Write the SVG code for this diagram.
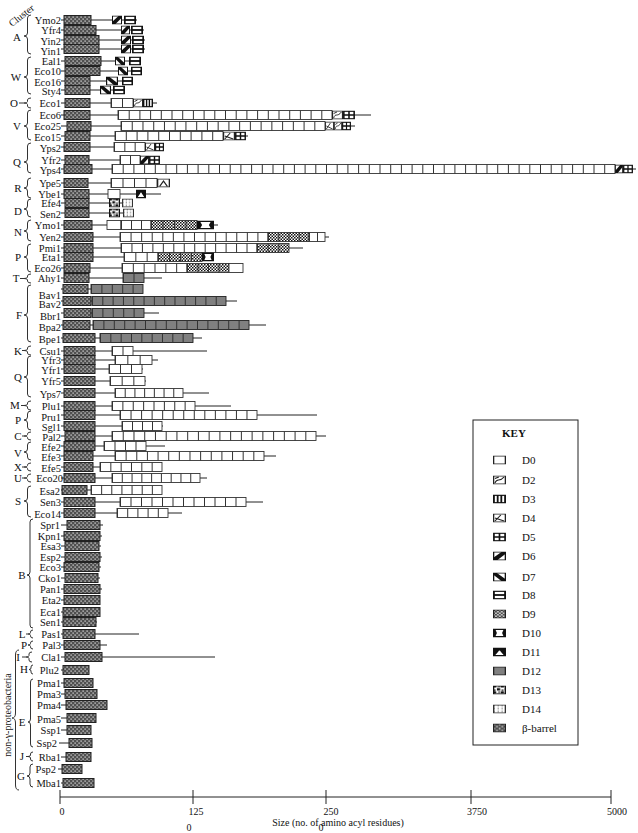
<svg xmlns="http://www.w3.org/2000/svg" width="638" height="833" viewBox="0 0 638 833">
<style>
text{font-family:"Liberation Serif","Times New Roman",serif;fill:#111}
.lb{font-size:10.5px;text-anchor:end}
.cl{font-size:11px;text-anchor:middle}
.ln{stroke:#222;stroke-width:1;fill:none}
.br{stroke:#333;stroke-width:1;fill:none}
.bb{fill:url(#pb);stroke:#222;stroke-width:1}
.d0{fill:#fff;stroke:#333;stroke-width:0.9}
.d9{fill:url(#p9);stroke:#333;stroke-width:0.9}
.d12{fill:#808080;stroke:#222;stroke-width:0.9}
.dv{stroke:#333;stroke-width:9;stroke-dasharray:1 9.5}
.ax{stroke:#222;stroke-width:1}
.tk{font-size:10px;text-anchor:middle}
.kl{font-size:11px}
</style>
<defs>
<pattern id="pb" width="4" height="4" patternUnits="userSpaceOnUse"><rect width="4" height="4" fill="#505050"/><rect x="0.5" y="0.5" width="1.2" height="1.2" fill="#eee"/><rect x="2.5" y="2.5" width="1.2" height="1.2" fill="#eee"/></pattern>
<pattern id="p9" width="3" height="3" patternUnits="userSpaceOnUse"><rect width="3" height="3" fill="#fff"/><rect width="1.5" height="1.5" fill="#111"/><rect x="1.5" y="1.5" width="1.5" height="1.5" fill="#111"/></pattern>
<pattern id="p13" width="6" height="6" patternUnits="userSpaceOnUse"><rect width="6" height="6" fill="#fff"/><rect width="2.5" height="2" fill="#111"/><rect x="3" y="2.5" width="2.5" height="2.5" fill="#111"/><rect x="0.5" y="4" width="1.5" height="1.5" fill="#111"/><rect x="4" y="0" width="1.5" height="1.2" fill="#111"/></pattern>
<pattern id="p14" width="3" height="3" patternUnits="userSpaceOnUse"><rect width="3" height="3" fill="#fff"/><rect x="0.5" y="0.5" width="1" height="1" fill="#444"/></pattern>
<symbol id="s0" viewBox="0 0 10 9" preserveAspectRatio="none"><rect x=".5" y=".5" width="9" height="8" fill="#fff" stroke="#222"/></symbol>
<symbol id="s2" viewBox="0 0 10 9" preserveAspectRatio="none"><rect x=".5" y=".5" width="9" height="8" fill="#fff" stroke="#222"/><path d="M1.5,7.5C3,2 5,7 8.5,1.5M1.5,3L4.5,1.5" fill="none" stroke="#222" stroke-width=".9"/></symbol>
<symbol id="s3" viewBox="0 0 10 9" preserveAspectRatio="none"><rect x=".7" y=".7" width="8.6" height="7.6" fill="#fff" stroke="#111" stroke-width="1.4"/><path d="M3.6,.5V8.5M6.4,.5V8.5" stroke="#111" stroke-width="1.4"/></symbol>
<symbol id="s4" viewBox="0 0 10 9" preserveAspectRatio="none"><rect x=".5" y=".5" width="9" height="8" fill="#fff" stroke="#222"/><path d="M1.5,7.5L6,1.5M1.5,4.5L8.5,7.5" fill="none" stroke="#222" stroke-width=".9"/></symbol>
<symbol id="s5" viewBox="0 0 10 9" preserveAspectRatio="none"><rect x=".7" y=".7" width="8.6" height="7.6" fill="#fff" stroke="#111" stroke-width="1.3"/><path d="M5,.5V8.5M.5,4.5H9.5" stroke="#111" stroke-width="1.3"/></symbol>
<symbol id="s6" viewBox="0 0 10 9" preserveAspectRatio="none"><rect x=".5" y=".5" width="9" height="8" fill="#fff"/><polygon points="0.5,8.5 0.5,6 6.5,0.5 9.5,0.5 9.5,2.5 3.5,8.5" fill="#111"/><rect x=".5" y=".5" width="9" height="8" fill="none" stroke="#111"/></symbol>
<symbol id="s7" viewBox="0 0 10 9" preserveAspectRatio="none"><rect x=".5" y=".5" width="9" height="8" fill="#fff"/><polygon points="0.5,0.5 3,0.5 9.5,6.5 9.5,8.5 6.5,8.5 0.5,2.5" fill="#111"/><rect x=".5" y=".5" width="9" height="8" fill="none" stroke="#111"/></symbol>
<symbol id="s8" viewBox="0 0 10 9" preserveAspectRatio="none"><rect x=".7" y=".7" width="8.6" height="7.6" fill="#fff" stroke="#111" stroke-width="1.4"/><rect x="0" y="3.6" width="10" height="1.8" fill="#111"/></symbol>
<symbol id="s9" viewBox="0 0 10 9" preserveAspectRatio="none"><rect x=".5" y=".5" width="9" height="8" fill="url(#p9)" stroke="#222"/></symbol>
<symbol id="s10" viewBox="0 0 10 9" preserveAspectRatio="none"><rect width="10" height="9" fill="#111"/><path d="M2,1.5H8L7,4.5L8,7.5H2L3,4.5Z" fill="#fff"/></symbol>
<symbol id="s11" viewBox="0 0 10 9" preserveAspectRatio="none"><rect width="10" height="9" fill="#111"/><path d="M1.8,7.5L4,4.2Q5,2 6,4.2L8.2,7.5Z" fill="#fff"/></symbol>
<symbol id="s12" viewBox="0 0 10 9" preserveAspectRatio="none"><rect x=".5" y=".5" width="9" height="8" fill="#808080" stroke="#222"/></symbol>
<symbol id="s13" viewBox="0 0 10 9" preserveAspectRatio="none"><rect x=".5" y=".5" width="9" height="8" fill="url(#p13)" stroke="#111"/></symbol>
<symbol id="s14" viewBox="0 0 10 9" preserveAspectRatio="none"><rect x=".5" y=".5" width="9" height="8" fill="url(#p14)" stroke="#333"/></symbol>
<symbol id="sT" viewBox="0 0 10 9" preserveAspectRatio="none"><rect x=".5" y=".5" width="9" height="8" fill="#fff" stroke="#222"/><path d="M2,8L5,2.5L8,8" fill="none" stroke="#222"/></symbol>
<symbol id="sB" viewBox="0 0 10 9" preserveAspectRatio="none"><rect x=".5" y=".5" width="9" height="8" fill="url(#pb)" stroke="#222"/></symbol>
</defs>
<rect width="638" height="833" fill="#fff"/>

<g id="connectors">
<line class="ln" x1="61" y1="20" x2="137" y2="20"/>
<line class="ln" x1="61" y1="30" x2="144" y2="30"/>
<line class="ln" x1="61" y1="40" x2="145" y2="40"/>
<line class="ln" x1="61" y1="49" x2="145" y2="49"/>
<line class="ln" x1="61" y1="61" x2="141" y2="61"/>
<line class="ln" x1="61" y1="71" x2="142" y2="71"/>
<line class="ln" x1="61" y1="81" x2="133" y2="81"/>
<line class="ln" x1="61" y1="90" x2="125" y2="90"/>
<line class="ln" x1="61" y1="103" x2="157" y2="103"/>
<line class="ln" x1="61" y1="115" x2="371" y2="115"/>
<line class="ln" x1="61" y1="126" x2="355" y2="126"/>
<line class="ln" x1="61" y1="136" x2="248" y2="136"/>
<line class="ln" x1="61" y1="147" x2="164" y2="147"/>
<line class="ln" x1="61" y1="160" x2="160" y2="160"/>
<line class="ln" x1="61" y1="169" x2="636" y2="169"/>
<line class="ln" x1="61" y1="183" x2="170" y2="183"/>
<line class="ln" x1="61" y1="194" x2="161" y2="194"/>
<line class="ln" x1="61" y1="203" x2="122" y2="203"/>
<line class="ln" x1="61" y1="213" x2="123" y2="213"/>
<line class="ln" x1="61" y1="225" x2="218" y2="225"/>
<line class="ln" x1="61" y1="237" x2="329" y2="237"/>
<line class="ln" x1="61" y1="248" x2="303" y2="248"/>
<line class="ln" x1="61" y1="257" x2="214" y2="257"/>
<line class="ln" x1="61" y1="268" x2="243" y2="268"/>
<line class="ln" x1="61" y1="278" x2="162" y2="278"/>
<line class="ln" x1="61" y1="289" x2="143" y2="289"/>
<line class="ln" x1="61" y1="301" x2="237" y2="301"/>
<line class="ln" x1="61" y1="313" x2="159" y2="313"/>
<line class="ln" x1="61" y1="325" x2="266" y2="325"/>
<line class="ln" x1="61" y1="338" x2="202" y2="338"/>
<line class="ln" x1="61" y1="351" x2="207" y2="351"/>
<line class="ln" x1="61" y1="360" x2="158" y2="360"/>
<line class="ln" x1="61" y1="369" x2="143" y2="369"/>
<line class="ln" x1="61" y1="381" x2="146" y2="381"/>
<line class="ln" x1="61" y1="393" x2="209" y2="393"/>
<line class="ln" x1="61" y1="406" x2="231" y2="406"/>
<line class="ln" x1="61" y1="415" x2="317" y2="415"/>
<line class="ln" x1="61" y1="426" x2="163" y2="426"/>
<line class="ln" x1="61" y1="436" x2="326" y2="436"/>
<line class="ln" x1="61" y1="446" x2="165" y2="446"/>
<line class="ln" x1="61" y1="456" x2="276" y2="456"/>
<line class="ln" x1="61" y1="467" x2="162" y2="467"/>
<line class="ln" x1="61" y1="478" x2="207" y2="478"/>
<line class="ln" x1="61" y1="490" x2="162" y2="490"/>
<line class="ln" x1="61" y1="502" x2="263" y2="502"/>
<line class="ln" x1="61" y1="513" x2="182" y2="513"/>
<line class="ln" x1="61" y1="525" x2="103" y2="525"/>
<line class="ln" x1="61" y1="536" x2="102" y2="536"/>
<line class="ln" x1="61" y1="546" x2="101" y2="546"/>
<line class="ln" x1="61" y1="557" x2="102" y2="557"/>
<line class="ln" x1="61" y1="567" x2="101" y2="567"/>
<line class="ln" x1="61" y1="578" x2="100" y2="578"/>
<line class="ln" x1="61" y1="589" x2="102" y2="589"/>
<line class="ln" x1="61" y1="600" x2="100" y2="600"/>
<line class="ln" x1="61" y1="612" x2="100" y2="612"/>
<line class="ln" x1="61" y1="622" x2="97" y2="622"/>
<line class="ln" x1="61" y1="634" x2="139" y2="634"/>
<line class="ln" x1="61" y1="645" x2="107" y2="645"/>
<line class="ln" x1="61" y1="657" x2="215" y2="657"/>
<line class="ln" x1="61" y1="670" x2="89" y2="670"/>
<line class="ln" x1="61" y1="683" x2="93" y2="683"/>
<line class="ln" x1="61" y1="694" x2="97" y2="694"/>
<line class="ln" x1="61" y1="705" x2="107" y2="705"/>
<line class="ln" x1="61" y1="718" x2="96" y2="718"/>
<line class="ln" x1="61" y1="730" x2="91" y2="730"/>
<line class="ln" x1="59" y1="743" x2="92" y2="743"/>
<line class="ln" x1="61" y1="757" x2="91" y2="757"/>
<line class="ln" x1="58" y1="769" x2="82" y2="769"/>
<line class="ln" x1="61" y1="783" x2="94" y2="783"/>
</g>

<g id="braces">
<path class="br" d="M31,15Q27.5,15 27.5,18V33Q27.5,36 24,36Q27.5,36 27.5,39V51Q27.5,54 31,54"/>
<path class="br" d="M31,57Q27.5,57 27.5,60V74Q27.5,77 24,77Q27.5,77 27.5,80V91Q27.5,94 31,94"/>
<path class="br" d="M31,98Q27.5,98 27.5,100V101.5Q27.5,103 24,103Q27.5,103 27.5,104.5V106Q27.5,108 31,108M19,103H24"/>
<path class="br" d="M31,110Q27.5,110 27.5,113V123Q27.5,126 24,126Q27.5,126 27.5,129V137Q27.5,140 31,140"/>
<path class="br" d="M31,143Q27.5,143 27.5,146V159Q27.5,162 24,162Q27.5,162 27.5,165V170Q27.5,173 31,173"/>
<path class="br" d="M31,178Q27.5,178 27.5,181V185Q27.5,188 24,188Q27.5,188 27.5,191V195Q27.5,198 31,198"/>
<path class="br" d="M31,199Q27.5,199 27.5,202V206Q27.5,209 24,209Q27.5,209 27.5,212V214Q27.5,217 31,217"/>
<path class="br" d="M31,220Q27.5,220 27.5,223V228Q27.5,231 24,231Q27.5,231 27.5,234V238Q27.5,241 31,241"/>
<path class="br" d="M31,244Q27.5,244 27.5,247V254Q27.5,257 24,257Q27.5,257 27.5,260V269Q27.5,272 31,272"/>
<path class="br" d="M31,274Q27.5,274 27.5,276V277Q27.5,278.5 24,278.5Q27.5,278.5 27.5,280V281Q27.5,283 31,283M20,278.5H24"/>
<path class="br" d="M31,285Q27.5,285 27.5,288V312Q27.5,315 24,315Q27.5,315 27.5,318V339Q27.5,342 31,342"/>
<path class="br" d="M31,346Q27.5,346 27.5,348V349Q27.5,350.5 24,350.5Q27.5,350.5 27.5,352V353Q27.5,355 31,355M22,350.5H24"/>
<path class="br" d="M31,356Q27.5,356 27.5,359V374Q27.5,377 24,377Q27.5,377 27.5,380V394Q27.5,397 31,397"/>
<path class="br" d="M31,401Q27.5,401 27.5,403V404Q27.5,405.5 24,405.5Q27.5,405.5 27.5,407V408Q27.5,410 31,410M21,405.5H24"/>
<path class="br" d="M31,411Q27.5,411 27.5,414V417Q27.5,420 24,420Q27.5,420 27.5,423V427Q27.5,430 31,430"/>
<path class="br" d="M31,432Q27.5,432 27.5,434V434.5Q27.5,436 24,436Q27.5,436 27.5,437.5V438Q27.5,440 31,440M22,436H24"/>
<path class="br" d="M31,442Q27.5,442 27.5,445V449Q27.5,452 24,452Q27.5,452 27.5,455V457Q27.5,460 31,460"/>
<path class="br" d="M31,463Q27.5,463 27.5,465V465.5Q27.5,467 24,467Q27.5,467 27.5,468.5V469Q27.5,471 31,471M22,467H24"/>
<path class="br" d="M31,474Q27.5,474 27.5,476V476.5Q27.5,478 24,478Q27.5,478 27.5,479.5V480Q27.5,482 31,482M22,478H24"/>
<path class="br" d="M31,486Q27.5,486 27.5,489V498Q27.5,501 24,501Q27.5,501 27.5,504V514Q27.5,517 31,517"/>
<path class="br" d="M33,519Q30,519 30,522V572Q30,575 27,575Q30,575 30,578V625Q30,628 33,628"/>
<path class="br" d="M33,630Q30.5,630 30.5,632V632.5Q30.5,634 28,634Q30.5,634 30.5,635.5V636Q30.5,638 33,638M26,634H28"/>
<path class="br" d="M33,641Q30.5,641 30.5,643V643.5Q30.5,645 28,645Q30.5,645 30.5,646.5V647Q30.5,649 33,649"/>
<path class="br" d="M32,652Q29,652 29,654V655.5Q29,657 26,657Q29,657 29,658.5V660Q29,662 32,662M22,657H26"/>
<path class="br" d="M33,665Q31,665 31,667V668Q31,669.5 29,669.5Q31,669.5 31,671V672Q31,674 33,674"/>
<path class="br" d="M33,679Q30.5,679 30.5,682V719Q30.5,722 28,722Q30.5,722 30.5,725V744Q30.5,747 33,747"/>
<path class="br" d="M33,752Q30.5,752 30.5,754V755Q30.5,756.5 28,756.5Q30.5,756.5 30.5,758V759Q30.5,761 33,761M26,756.5H28"/>
<path class="br" d="M33,764Q30,764 30,767V773Q30,776 27,776Q30,776 30,779V784Q30,787 33,787"/>
<path class="br" d="M19,650Q15.5,650 15.5,655V713Q15.5,718 12,718Q15.5,718 15.5,723V785Q15.5,790 19,790"/>
</g>

<g id="clusters">
<text transform="translate(12,27) rotate(-38)" font-size="10">Cluster</text>
<text class="cl" x="17" y="41">A</text>
<text class="cl" x="16" y="81">W</text>
<text class="cl" x="14" y="107">O</text>
<text class="cl" x="17" y="130">V</text>
<text class="cl" x="17" y="166">Q</text>
<text class="cl" x="18" y="192">R</text>
<text class="cl" x="18" y="215">D</text>
<text class="cl" x="18" y="236">N</text>
<text class="cl" x="18" y="261">P</text>
<text class="cl" x="16" y="282">T</text>
<text class="cl" x="19" y="319">F</text>
<text class="cl" x="18" y="355">K</text>
<text class="cl" x="18" y="381">Q</text>
<text class="cl" x="15" y="409">M</text>
<text class="cl" x="18" y="424">P</text>
<text class="cl" x="18" y="440">C</text>
<text class="cl" x="18" y="457">V</text>
<text class="cl" x="18" y="471">X</text>
<text class="cl" x="18" y="482">U</text>
<text class="cl" x="18" y="505">S</text>
<text class="cl" x="22" y="579">B</text>
<text class="cl" x="22" y="638">L</text>
<text class="cl" x="24" y="649">P</text>
<text class="cl" x="18" y="661">I</text>
<text class="cl" x="24" y="673">H</text>
<text class="cl" x="22" y="726">E</text>
<text class="cl" x="22" y="760">J</text>
<text class="cl" x="21" y="780">G</text>
<text transform="translate(11,715) rotate(-90)" font-size="10" text-anchor="middle">non-γ-proteobacteria</text>
</g>

<g id="Ymo2"><text class="lb" x="61" y="24">Ymo2</text><rect class="bb" x="64" y="15.5" width="27" height="9"/><use href="#s6" x="112" y="15.5" width="10" height="9"/><use href="#s8" x="124" y="15.5" width="12" height="9"/></g>
<g id="Yfr4"><text class="lb" x="61" y="34">Yfr4</text><rect class="bb" x="64" y="25.5" width="32" height="9"/><use href="#s6" x="121" y="25.5" width="9" height="9"/><use href="#s8" x="131" y="25.5" width="12" height="9"/></g>
<g id="Yin2"><text class="lb" x="61" y="45">Yin2</text><rect class="bb" x="64" y="35.5" width="35" height="9"/><use href="#s6" x="121" y="35.5" width="10" height="9"/><use href="#s8" x="132" y="35.5" width="12" height="9"/></g>
<g id="Yin1"><text class="lb" x="61" y="55">Yin1</text><rect class="bb" x="64" y="44.5" width="35" height="9"/><use href="#s6" x="121" y="44.5" width="10" height="9"/><use href="#s8" x="132" y="44.5" width="12" height="9"/></g>
<g id="Eal1"><text class="lb" x="61" y="65">Eal1</text><rect class="bb" x="65" y="56.5" width="36" height="9"/><use href="#s7" x="115" y="56.5" width="10" height="9"/><use href="#s8" x="129" y="56.5" width="12" height="9"/></g>
<g id="Eco10"><text class="lb" x="61" y="75">Eco10</text><rect class="bb" x="65" y="66.5" width="35" height="9"/><use href="#s7" x="118" y="66.5" width="10" height="9"/><use href="#s8" x="131" y="66.5" width="11" height="9"/></g>
<g id="Eco16"><text class="lb" x="61" y="86">Eco16</text><rect class="bb" x="65" y="76.5" width="25" height="9"/><use href="#s7" x="106" y="76.5" width="12" height="9"/><use href="#s8" x="122" y="76.5" width="11" height="9"/></g>
<g id="Sty4"><text class="lb" x="61" y="95">Sty4</text><rect class="bb" x="65" y="85.5" width="25" height="9"/><use href="#s7" x="100" y="85.5" width="11" height="9"/><use href="#s8" x="113" y="85.5" width="12" height="9"/></g>
<g id="Eco1"><text class="lb" x="61" y="107">Eco1</text><rect class="bb" x="65" y="98.5" width="25" height="9"/><rect class="d0" x="111" y="98.5" width="22" height="9"/><line class="dv" x1="111" y1="103" x2="133" y2="103" style="stroke-dasharray:1 10"/><use href="#s2" x="133" y="98.5" width="10" height="9"/><use href="#s3" x="143" y="98.5" width="10" height="9"/></g>
<g id="Eco6"><text class="lb" x="61" y="119">Eco6</text><rect class="bb" x="64" y="110.5" width="26" height="9"/><rect class="d0" x="118" y="110.5" width="214" height="9"/><line class="dv" x1="118" y1="115" x2="332" y2="115" style="stroke-dasharray:1 9.7"/><use href="#s2" x="332" y="110.5" width="11" height="9"/><use href="#s5" x="343" y="110.5" width="12" height="9"/></g>
<g id="Eco25"><text class="lb" x="61" y="130">Eco25</text><rect class="bb" x="67" y="121.5" width="24" height="9"/><rect class="d0" x="121" y="121.5" width="204" height="9"/><line class="dv" x1="121" y1="126" x2="325" y2="126" style="stroke-dasharray:1 9.74"/><use href="#s4" x="325" y="121.5" width="9" height="9"/><use href="#s2" x="334" y="121.5" width="8" height="9"/><use href="#s5" x="342" y="121.5" width="9" height="9"/></g>
<g id="Eco15"><text class="lb" x="61" y="141">Eco15</text><rect class="bb" x="65" y="131.5" width="25" height="9"/><rect class="d0" x="115" y="131.5" width="108" height="9"/><line class="dv" x1="115" y1="136" x2="223" y2="136" style="stroke-dasharray:1 9.8"/><use href="#s4" x="223" y="131.5" width="12" height="9"/><use href="#s5" x="235" y="131.5" width="11" height="9"/></g>
<g id="Yps2"><text class="lb" x="61" y="152">Yps2</text><rect class="bb" x="64" y="142.5" width="26" height="9"/><rect class="d0" x="114" y="142.5" width="31" height="9"/><line class="dv" x1="114" y1="147" x2="145" y2="147" style="stroke-dasharray:1 9.33"/><use href="#s4" x="145" y="142.5" width="10" height="9"/><use href="#s5" x="155" y="142.5" width="9" height="9"/></g>
<g id="Yfr2"><text class="lb" x="61" y="164">Yfr2</text><rect class="bb" x="65" y="155.5" width="24" height="9"/><rect class="d0" x="120" y="155.5" width="20" height="9"/><line class="dv" x1="120" y1="160" x2="140" y2="160" style="stroke-dasharray:1 9"/><use href="#s6" x="140" y="155.5" width="9" height="9"/><use href="#s5" x="149" y="155.5" width="11" height="9"/></g>
<g id="Yps4"><text class="lb" x="61" y="174">Yps4</text><rect class="bb" x="64" y="164.5" width="28" height="9"/><rect class="d0" x="112" y="164.5" width="503" height="9"/><line class="dv" x1="112" y1="169" x2="615" y2="169" style="stroke-dasharray:1 9.7"/><use href="#s6" x="615" y="164.5" width="8" height="9"/><use href="#s5" x="623" y="164.5" width="10" height="9"/></g>
<g id="Ype5"><text class="lb" x="61" y="187">Ype5</text><rect class="bb" x="64" y="178.5" width="24" height="9"/><rect class="d0" x="111" y="178.5" width="46" height="9"/><line class="dv" x1="111" y1="183" x2="157" y2="183" style="stroke-dasharray:1 10.5"/><use href="#sT" x="157" y="178.5" width="13" height="9"/></g>
<g id="Ybe1"><text class="lb" x="61" y="198">Ybe1</text><rect class="bb" x="64" y="189.5" width="25" height="9"/><rect class="d0" x="108" y="189.5" width="12" height="9"/><use href="#s11" x="136" y="189.5" width="10" height="9"/></g>
<g id="Efe4"><text class="lb" x="61" y="207">Efe4</text><rect class="bb" x="65" y="198.5" width="24" height="9"/><use href="#s13" x="109" y="198.5" width="11" height="9"/><use href="#s14" x="122" y="198.5" width="11" height="9"/></g>
<g id="Sen2"><text class="lb" x="61" y="218">Sen2</text><rect class="bb" x="65" y="208.5" width="24" height="9"/><use href="#s13" x="109" y="208.5" width="11" height="9"/><use href="#s14" x="123" y="208.5" width="11" height="9"/></g>
<g id="Ymo1"><text class="lb" x="61" y="229">Ymo1</text><rect class="bb" x="64" y="220.5" width="28" height="9"/><rect class="d0" x="107" y="220.5" width="14" height="9"/><rect class="d0" x="121" y="220.5" width="30" height="9"/><line class="dv" x1="121" y1="225" x2="151" y2="225" style="stroke-dasharray:1 9"/><rect class="d9" x="151" y="220.5" width="46" height="9"/><line class="dv" x1="151" y1="225" x2="197" y2="225" style="stroke-dasharray:1 10.5"/><use href="#s10" x="197" y="220.5" width="17" height="9"/></g>
<g id="Yen2"><text class="lb" x="61" y="241">Yen2</text><rect class="bb" x="64" y="232.5" width="29" height="9"/><rect class="d0" x="120" y="232.5" width="148" height="9"/><line class="dv" x1="120" y1="237" x2="268" y2="237" style="stroke-dasharray:1 9.57"/><rect class="d9" x="268" y="232.5" width="41" height="9"/><line class="dv" x1="268" y1="237" x2="309" y2="237" style="stroke-dasharray:1 9.25"/><rect class="d0" x="309" y="232.5" width="16" height="9"/><line class="dv" x1="309" y1="237" x2="325" y2="237" style="stroke-dasharray:1 7"/></g>
<g id="Pmi1"><text class="lb" x="61" y="252">Pmi1</text><rect class="bb" x="64" y="243.5" width="29" height="9"/><rect class="d0" x="121" y="243.5" width="136" height="9"/><line class="dv" x1="121" y1="248" x2="257" y2="248" style="stroke-dasharray:1 9.46"/><rect class="d9" x="257" y="243.5" width="32" height="9"/><line class="dv" x1="257" y1="248" x2="289" y2="248" style="stroke-dasharray:1 9.67"/></g>
<g id="Eta1"><text class="lb" x="61" y="261">Eta1</text><rect class="bb" x="64" y="252.5" width="29" height="9"/><rect class="d0" x="124" y="252.5" width="34" height="9"/><line class="dv" x1="124" y1="257" x2="158" y2="257" style="stroke-dasharray:1 10.33"/><rect class="d9" x="158" y="252.5" width="44" height="9"/><line class="dv" x1="158" y1="257" x2="202" y2="257" style="stroke-dasharray:1 10"/><use href="#s10" x="202" y="252.5" width="12" height="9"/></g>
<g id="Eco26"><text class="lb" x="61" y="272">Eco26</text><rect class="bb" x="64" y="263.5" width="26" height="9"/><rect class="d0" x="122" y="263.5" width="65" height="9"/><line class="dv" x1="122" y1="268" x2="187" y2="268" style="stroke-dasharray:1 9.83"/><rect class="d9" x="187" y="263.5" width="42" height="9"/><line class="dv" x1="187" y1="268" x2="229" y2="268" style="stroke-dasharray:1 9.5"/><rect class="d0" x="229" y="263.5" width="14" height="9"/></g>
<g id="Ahy1"><text class="lb" x="61" y="282">Ahy1</text><rect class="bb" x="64" y="273.5" width="25" height="9"/><rect class="d12" x="123" y="273.5" width="21" height="9"/><line class="dv" x1="123" y1="278" x2="144" y2="278" style="stroke-dasharray:1 9.5"/></g>
<g id="Bav1"><text class="lb" x="61" y="299">Bav1</text><rect class="bb" x="63" y="284.5" width="25" height="9"/><rect class="d12" x="91" y="284.5" width="52" height="9"/><line class="dv" x1="91" y1="289" x2="143" y2="289" style="stroke-dasharray:1 9.4"/></g>
<g id="Bav2"><text class="lb" x="61" y="308">Bav2</text><rect class="bb" x="63" y="296.5" width="28" height="9"/><rect class="d12" x="92" y="296.5" width="134" height="9"/><line class="dv" x1="92" y1="301" x2="226" y2="301" style="stroke-dasharray:1 9.31"/></g>
<g id="Bbr1"><text class="lb" x="61" y="320">Bbr1</text><rect class="bb" x="64" y="308.5" width="27" height="9"/><rect class="d12" x="92" y="308.5" width="52" height="9"/><line class="dv" x1="92" y1="313" x2="144" y2="313" style="stroke-dasharray:1 9.4"/></g>
<g id="Bpa2"><text class="lb" x="61" y="331">Bpa2</text><rect class="bb" x="63" y="320.5" width="27" height="9"/><rect class="d12" x="93" y="320.5" width="156" height="9"/><line class="dv" x1="93" y1="325" x2="249" y2="325" style="stroke-dasharray:1 9.4"/></g>
<g id="Bpe1"><text class="lb" x="61" y="343">Bpe1</text><rect class="bb" x="63" y="333.5" width="32" height="9"/><rect class="d12" x="100" y="333.5" width="93" height="9"/><line class="dv" x1="100" y1="338" x2="193" y2="338" style="stroke-dasharray:1 9.33"/></g>
<g id="Csu1"><text class="lb" x="61" y="355">Csu1</text><rect class="bb" x="64" y="346.5" width="31" height="9"/><rect class="d0" x="112" y="346.5" width="21" height="9"/><line class="dv" x1="112" y1="351" x2="133" y2="351" style="stroke-dasharray:1 9.5"/></g>
<g id="Yfr3"><text class="lb" x="61" y="364">Yfr3</text><rect class="bb" x="64" y="355.5" width="31" height="9"/><rect class="d0" x="115" y="355.5" width="37" height="9"/><line class="dv" x1="115" y1="360" x2="152" y2="360" style="stroke-dasharray:1 11.33"/></g>
<g id="Yfr1"><text class="lb" x="61" y="374">Yfr1</text><rect class="bb" x="64" y="364.5" width="31" height="9"/><rect class="d0" x="109" y="364.5" width="33" height="9"/><line class="dv" x1="109" y1="369" x2="142" y2="369" style="stroke-dasharray:1 10"/></g>
<g id="Yfr5"><text class="lb" x="61" y="385">Yfr5</text><rect class="bb" x="64" y="376.5" width="31" height="9"/><rect class="d0" x="110" y="376.5" width="35" height="9"/><line class="dv" x1="110" y1="381" x2="145" y2="381" style="stroke-dasharray:1 10.67"/></g>
<g id="Yps7"><text class="lb" x="61" y="398">Yps7</text><rect class="bb" x="64" y="388.5" width="31" height="9"/><rect class="d0" x="115" y="388.5" width="68" height="9"/><line class="dv" x1="115" y1="393" x2="183" y2="393" style="stroke-dasharray:1 8.71"/></g>
<g id="Plu1"><text class="lb" x="61" y="410">Plu1</text><rect class="bb" x="64" y="401.5" width="31" height="9"/><rect class="d0" x="112" y="401.5" width="83" height="9"/><line class="dv" x1="112" y1="406" x2="195" y2="406" style="stroke-dasharray:1 9.375"/></g>
<g id="Pru1"><text class="lb" x="61" y="421">Pru1</text><rect class="bb" x="64" y="410.5" width="31" height="9"/><rect class="d0" x="120" y="410.5" width="137" height="9"/><line class="dv" x1="120" y1="415" x2="257" y2="415" style="stroke-dasharray:1 9.54"/></g>
<g id="Sgl1"><text class="lb" x="61" y="431">Sgl1</text><rect class="bb" x="64" y="421.5" width="31" height="9"/><rect class="d0" x="122" y="421.5" width="40" height="9"/><line class="dv" x1="122" y1="426" x2="162" y2="426" style="stroke-dasharray:1 9"/></g>
<g id="Pal2"><text class="lb" x="61" y="441">Pal2</text><rect class="bb" x="65" y="431.5" width="30" height="9"/><rect class="d0" x="112" y="431.5" width="204" height="9"/><line class="dv" x1="112" y1="436" x2="316" y2="436" style="stroke-dasharray:1 9.74"/></g>
<g id="Efe2"><text class="lb" x="61" y="451">Efe2</text><rect class="bb" x="64" y="441.5" width="31" height="9"/><rect class="d0" x="104" y="441.5" width="42" height="9"/><line class="dv" x1="104" y1="446" x2="146" y2="446" style="stroke-dasharray:1 9.5"/></g>
<g id="Efe3"><text class="lb" x="61" y="461">Efe3</text><rect class="bb" x="64" y="451.5" width="29" height="9"/><rect class="d0" x="115" y="451.5" width="149" height="9"/><line class="dv" x1="115" y1="456" x2="264" y2="456" style="stroke-dasharray:1 9.64"/></g>
<g id="Efe5"><text class="lb" x="61" y="472">Efe5</text><rect class="bb" x="64" y="462.5" width="29" height="9"/><rect class="d0" x="100" y="462.5" width="62" height="9"/><line class="dv" x1="100" y1="467" x2="162" y2="467" style="stroke-dasharray:1 9.33"/></g>
<g id="Eco20"><text class="lb" x="63" y="482">Eco20</text><rect class="bb" x="64" y="473.5" width="31" height="9"/><rect class="d0" x="112" y="473.5" width="88" height="9"/><line class="dv" x1="112" y1="478" x2="200" y2="478" style="stroke-dasharray:1 8.78"/></g>
<g id="Esa2"><text class="lb" x="60" y="495">Esa2</text><rect class="bb" x="62" y="485.5" width="25" height="9"/><rect class="d0" x="91" y="485.5" width="71" height="9"/><line class="dv" x1="91" y1="490" x2="162" y2="490" style="stroke-dasharray:1 9.14"/></g>
<g id="Sen3"><text class="lb" x="61" y="506">Sen3</text><rect class="bb" x="64" y="497.5" width="31" height="9"/><rect class="d0" x="120" y="497.5" width="126" height="9"/><line class="dv" x1="120" y1="502" x2="246" y2="502" style="stroke-dasharray:1 9.5"/></g>
<g id="Eco14"><text class="lb" x="61" y="518">Eco14</text><rect class="bb" x="64" y="508.5" width="31" height="9"/><rect class="d0" x="117" y="508.5" width="51" height="9"/><line class="dv" x1="117" y1="513" x2="168" y2="513" style="stroke-dasharray:1 9.2"/></g>
<g id="Spr1"><text class="lb" x="60" y="529">Spr1</text><rect class="bb" x="67" y="520.5" width="33" height="9"/></g>
<g id="Kpn1"><text class="lb" x="61" y="540">Kpn1</text><rect class="bb" x="64" y="531.5" width="36" height="9"/></g>
<g id="Esa3"><text class="lb" x="61" y="550">Esa3</text><rect class="bb" x="65" y="541.5" width="34" height="9"/></g>
<g id="Esp2"><text class="lb" x="61" y="561">Esp2</text><rect class="bb" x="65" y="552.5" width="35" height="9"/></g>
<g id="Eco3"><text class="lb" x="61" y="571">Eco3</text><rect class="bb" x="64" y="562.5" width="35" height="9"/></g>
<g id="Cko1"><text class="lb" x="61" y="582">Cko1</text><rect class="bb" x="65" y="573.5" width="33" height="9"/></g>
<g id="Pan1"><text class="lb" x="61" y="593">Pan1</text><rect class="bb" x="64" y="584.5" width="36" height="9"/></g>
<g id="Eta2"><text class="lb" x="61" y="604">Eta2</text><rect class="bb" x="64" y="595.5" width="36" height="9"/></g>
<g id="Eca1"><text class="lb" x="61" y="616">Eca1</text><rect class="bb" x="63" y="607.5" width="37" height="9"/></g>
<g id="Sen1"><text class="lb" x="61" y="626">Sen1</text><rect class="bb" x="63" y="617.5" width="33" height="9"/></g>
<g id="Pas1"><text class="lb" x="61" y="638">Pas1</text><rect class="bb" x="63" y="629.5" width="32" height="9"/></g>
<g id="Pal3"><text class="lb" x="61" y="649">Pal3</text><rect class="bb" x="64" y="640.5" width="36" height="9"/></g>
<g id="Cla1"><text class="lb" x="61" y="661">Cla1</text><rect class="bb" x="65" y="652.5" width="37" height="9"/></g>
<g id="Plu2"><text class="lb" x="59" y="674">Plu2</text><rect class="bb" x="63" y="665.5" width="26" height="9"/></g>
<g id="Pma1"><text class="lb" x="61" y="687">Pma1</text><rect class="bb" x="64" y="678.5" width="29" height="9"/></g>
<g id="Pma3"><text class="lb" x="61" y="698">Pma3</text><rect class="bb" x="65" y="689.5" width="32" height="9"/></g>
<g id="Pma4"><text class="lb" x="61" y="709">Pma4</text><rect class="bb" x="66" y="700.5" width="41" height="9"/></g>
<g id="Pma5"><text class="lb" x="61" y="723">Pma5</text><rect class="bb" x="67" y="713.5" width="29" height="9"/></g>
<g id="Ssp1"><text class="lb" x="61" y="734">Ssp1</text><rect class="bb" x="67" y="725.5" width="24" height="9"/></g>
<g id="Ssp2"><text class="lb" x="57" y="747">Ssp2</text><rect class="bb" x="69" y="738.5" width="23" height="9"/></g>
<g id="Rba1"><text class="lb" x="61" y="761">Rba1</text><rect class="bb" x="66" y="752.5" width="25" height="9"/></g>
<g id="Psp2"><text class="lb" x="56" y="773">Psp2</text><rect class="bb" x="62" y="764.5" width="20" height="9"/></g>
<g id="Mba1"><text class="lb" x="61" y="787">Mba1</text><rect class="bb" x="63" y="778.5" width="31" height="9"/></g>

<g id="axis">
<line class="ax" x1="60" y1="797" x2="611" y2="797"/>
<line class="ax" x1="60" y1="790" x2="60" y2="804"/>
<line class="ax" x1="193" y1="790" x2="193" y2="804"/>
<line class="ax" x1="326" y1="790" x2="326" y2="804"/>
<line class="ax" x1="471" y1="790" x2="471" y2="804"/>
<line class="ax" x1="611" y1="790" x2="611" y2="804"/>
<text class="tk" x="62" y="815">0</text>
<text class="tk" x="196" y="815">125</text>
<text class="tk" x="331" y="815">250</text>
<text class="tk" x="477" y="815">3750</text>
<text class="tk" x="617" y="815">5000</text>
<text class="tk" x="189" y="831">0</text>
<text class="tk" x="321" y="831">0</text>
<text class="tk" x="338" y="826">Size (no. of amino acyl residues)</text>
</g>

<g id="key">
<rect x="473" y="420" width="105" height="325" fill="#fff" stroke="#222"/>
<text x="502" y="437" font-size="11" font-weight="bold">KEY</text>
<use href="#s0" x="493" y="455.5" width="13" height="9"/><text class="kl" x="522" y="464">D0</text>
<use href="#s2" x="493" y="475.5" width="13" height="9"/><text class="kl" x="522" y="484">D2</text>
<use href="#s3" x="493" y="494.5" width="13" height="9"/><text class="kl" x="522" y="503">D3</text>
<use href="#s4" x="493" y="513.5" width="13" height="9"/><text class="kl" x="522" y="522">D4</text>
<use href="#s5" x="493" y="532.5" width="13" height="9"/><text class="kl" x="522" y="541">D5</text>
<use href="#s6" x="493" y="551.5" width="13" height="9"/><text class="kl" x="522" y="560">D6</text>
<use href="#s7" x="493" y="572.5" width="13" height="9"/><text class="kl" x="522" y="581">D7</text>
<use href="#s8" x="493" y="590.5" width="13" height="9"/><text class="kl" x="522" y="599">D8</text>
<use href="#s9" x="493" y="609.5" width="13" height="9"/><text class="kl" x="522" y="618">D9</text>
<use href="#s10" x="493" y="628.5" width="13" height="9"/><text class="kl" x="522" y="637">D10</text>
<use href="#s11" x="493" y="647.5" width="13" height="9"/><text class="kl" x="522" y="656">D11</text>
<use href="#s12" x="493" y="666.5" width="13" height="9"/><text class="kl" x="522" y="675">D12</text>
<use href="#s13" x="493" y="685.5" width="13" height="9"/><text class="kl" x="522" y="694">D13</text>
<use href="#s14" x="493" y="704.5" width="13" height="9"/><text class="kl" x="522" y="713">D14</text>
<use href="#sB" x="493" y="723.5" width="13" height="9"/><text class="kl" x="522" y="732">β-barrel</text>
</g>
</svg>
